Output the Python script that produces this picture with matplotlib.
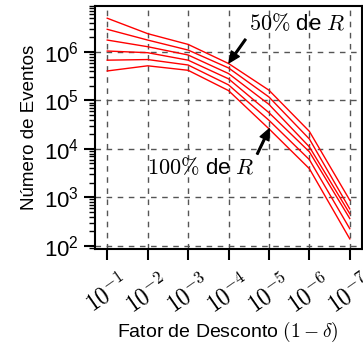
import numpy as np
import matplotlib.pyplot as plt

plt.rcParams['mathtext.fontset'] = 'cm'
plt.rcParams['font.family'] = ['Liberation Sans', 'DejaVu Sans']

fatores = ['$10^{-1}$', '$10^{-2}$', '$10^{-3}$', '$10^{-4}$', '$10^{-5}$', '$10^{-6}$', '$10^{-7}$']

# uma curva por fracao de R (de 50% ate 100%)
eventos = [
    [5.0e6, 2.4e6, 1.44e6, 5.8e5, 1.63e5, 2.3e4, 870],
    [2.95e6, 1.77e6, 1.1e6, 4.7e5, 1.18e5, 1.6e4, 575],
    [1.77e6, 1.29e6, 8.7e5, 3.6e5, 8.3e4, 1.1e4, 457],
    [1.05e6, 9.7e5, 6.8e5, 2.8e5, 5.6e4, 8.7e3, 363],
    [6.8e5, 7.0e5, 5.4e5, 2.1e5, 3.9e4, 6.0e3, 224],
    [4.07e5, 5.2e5, 4.2e5, 1.6e5, 2.6e4, 3.9e3, 138],
]

fig = plt.figure(figsize=(3.63, 3.45), dpi=100)
ax = fig.add_axes([0.262, 0.278, 0.735, 0.705])

x = np.arange(len(fatores))
for serie in eventos:
    ax.semilogy(x, serie, color='red', linewidth=1.0)

ax.set_xlim(-0.3, 6.3)
ax.set_ylim(85, 9e6)
ax.set_xticks(x)
ax.set_xticklabels(fatores, rotation=35, ha='center', fontsize=17)
ax.tick_params(axis='y', labelsize=16)
ax.tick_params(axis='x', pad=7)
ax.tick_params(which='major', length=8, width=1.5, direction='out')
ax.tick_params(which='minor', length=4, width=1.0, direction='out')
ax.set_yticks([1e2, 1e3, 1e4, 1e5, 1e6])
for s in ax.spines.values():
    s.set_linewidth(1.5)

ax.grid(True, which='major', linestyle=(0, (4, 4)), color='#555555', linewidth=1.0)

ax.set_xlabel(r'Fator de Desconto $(1-\delta)$', fontsize=14)
ax.xaxis.set_label_coords(0.498, -0.29)
ax.set_ylabel('Número de Eventos', fontsize=13.5)

ax.text(3.51, 3.8e6, r'$50\%$ de $R$', fontsize=16, ha='left', va='center')
ax.text(0.99, 4.0e3, r'$100\%$ de $R$', fontsize=16, ha='left', va='center')
seta = dict(facecolor='black', edgecolor='black', width=1.2, headwidth=7,
            headlength=8, shrink=0)
ax.annotate('', xy=(3.01, 6.0e5), xytext=(3.42, 1.83e6), arrowprops=seta)
ax.annotate('', xy=(4.01, 2.6e4), xytext=(3.71, 7.8e3), arrowprops=seta)

fig.savefig('out.png', dpi=100)
